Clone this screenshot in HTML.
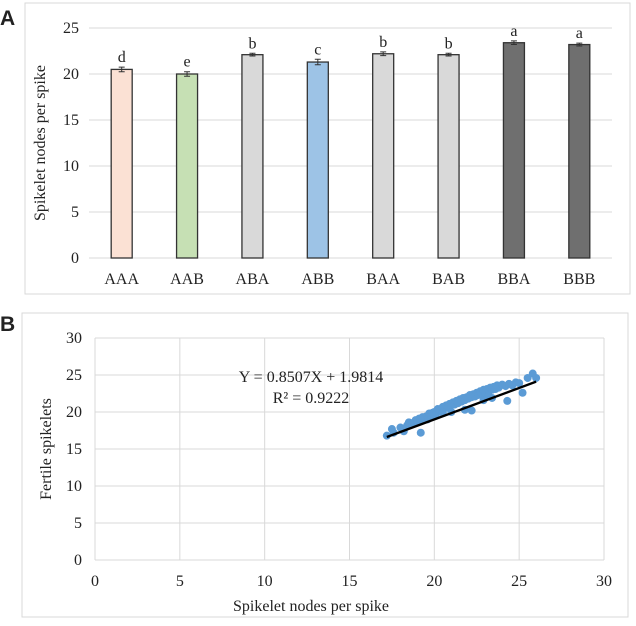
<!DOCTYPE html>
<html><head><meta charset="utf-8">
<style>
body{margin:0;background:#fff;width:636px;height:621px;overflow:hidden;font-family:"Liberation Serif",serif;}
svg text{font-family:"Liberation Serif",serif;fill:#222;}
</style></head>
<body>
<svg id="svg" width="636" height="621" xmlns="http://www.w3.org/2000/svg">
<rect x="25" y="3" width="605" height="291" fill="#fff" stroke="#d9d9d9"/>
<text x="0" y="25" style="font-family:'Liberation Sans',sans-serif;font-weight:bold;font-size:21px" fill="#000">A</text>
<rect x="22" y="313" width="606" height="304" fill="#fff" stroke="#d9d9d9"/>
<text x="0" y="331" style="font-family:'Liberation Sans',sans-serif;font-weight:bold;font-size:21px" fill="#000">B</text>
<g id="ga"></g>
<g id="gb"></g>
</svg>
<script>
const NS="http://www.w3.org/2000/svg";
const categories=["AAA","AAB","ABA","ABB","BAA","BAB","BBA","BBB"];
const barValues=[20.5,20.0,22.1,21.3,22.2,22.1,23.4,23.2];
const barErrors=[0.25,0.25,0.15,0.3,0.2,0.15,0.2,0.15];
const sigLetters=["d","e","b","c","b","b","a","a"];
const barColors=["#fbe1d4","#c6e0b4","#d9d9d9","#9dc3e6","#d9d9d9","#d9d9d9","#6f6f6f","#6f6f6f"];
const yTicksA=[0,5,10,15,20,25];
const scatterX=[17.2,17.5,17.6,18.0,18.2,18.4,18.5,18.7,18.9,19.0,19.1,19.2,19.3,19.5,19.6,19.7,19.8,19.9,20.0,20.1,20.2,20.3,20.4,20.5,20.6,20.7,20.8,20.9,21.0,21.1,21.2,21.3,21.4,21.5,21.6,21.7,21.8,21.9,22.0,22.1,22.2,22.3,22.4,22.5,22.6,22.7,22.8,22.9,23.0,23.1,23.2,23.3,23.4,23.5,23.6,23.7,23.8,24.0,24.2,24.4,24.6,24.8,25.0,25.2,25.5,25.8,26.0,19.2,20.5,21.8,22.9,23.4,22.2,24.3,20.0,21.0];
const scatterY=[16.8,17.7,17.2,17.9,17.4,18.2,18.6,18.5,18.9,18.7,19.1,17.2,19.3,19.4,19.0,19.8,19.5,19.9,20.0,19.7,20.4,20.1,20.3,20.7,20.5,20.9,20.6,21.1,20.9,21.3,21.0,21.5,21.2,21.7,21.4,21.9,21.6,22.0,21.8,22.3,22.0,22.4,22.1,22.6,22.3,22.8,22.5,23.0,22.6,23.1,22.2,23.3,23.0,23.4,23.1,23.6,23.3,23.7,23.5,23.8,23.6,24.0,23.9,22.6,24.6,25.2,24.6,18.9,19.9,20.3,21.6,21.9,20.2,21.5,19.5,20.0];
const xTicksB=[0,5,10,15,20,25,30];
const yTicksB=[0,5,10,15,20,25,30];
const slope=0.8507, intercept=1.9814, fitRange=[17.2,26.0];

function el(tag,attrs,parent){const e=document.createElementNS(NS,tag);for(const k in attrs)e.setAttribute(k,attrs[k]);parent.appendChild(e);return e;}

const FS='16';
// Panel A
const ga=document.getElementById('ga');
const aL=89,aR=612,aT=28,aB=258,aMax=25;
const ya=v=>aB-(v/aMax)*(aB-aT);
const bw=(aR-aL)/categories.length;
const xa=i=>aL+bw*(i+0.5);
yTicksA.forEach(t=>{
 const l=el('line',{x1:aL,x2:aR,y1:ya(t),y2:ya(t),stroke:'#d9d9d9','stroke-width':1},ga);
 
 
 const tx=el('text',{x:aL-10,y:ya(t)+5,'text-anchor':'end','font-size':FS},ga);tx.textContent=t;
 
 
});
categories.forEach((c,i)=>{
 const v=barValues[i],cx=xa(i);
 const r=el('rect',{x:cx-10.5,y:ya(v),width:21,height:aB-ya(v),fill:barColors[i],stroke:'#333','stroke-width':1.3},ga);
 
 
 const e=barErrors[i];
 const eg=el('path',{d:`M${cx},${ya(v+e)}V${ya(v-e)}M${cx-3},${ya(v+e)}H${cx+3}M${cx-3},${ya(v-e)}H${cx+3}`,stroke:'#333','stroke-width':1,fill:'none'},ga);
 
 
 const lt=el('text',{x:cx,y:ya(v+e)-5,'text-anchor':'middle','font-size':FS},ga);lt.textContent=sigLetters[i];
 
 
 const xl=el('text',{x:cx,y:284,'text-anchor':'middle','font-size':FS},ga);xl.textContent=c;
 
 
});
const ta=el('text',{x:0,y:0,'text-anchor':'middle','font-size':FS,transform:`translate(45,${(aT+aB)/2}) rotate(-90)`},ga);
ta.textContent='Spikelet nodes per spike';



// Panel B
const gb=document.getElementById('gb');
const bL=95,bR=604,bT=338,bB=560;
const xb=v=>bL+(v/30)*(bR-bL);
const yb=v=>bB-(v/30)*(bB-bT);
xTicksB.forEach(t=>{
 const l=el('line',{x1:xb(t),x2:xb(t),y1:bT,y2:bB,stroke:'#d9d9d9','stroke-width':1},gb);
 
 
 const tx=el('text',{x:xb(t),y:586,'text-anchor':'middle','font-size':FS},gb);tx.textContent=t;
 
 
});
yTicksB.forEach(t=>{
 const l=el('line',{x1:bL,x2:bR,y1:yb(t),y2:yb(t),stroke:'#d9d9d9','stroke-width':1},gb);
 
 
 const tx=el('text',{x:bL-13,y:yb(t)+5,'text-anchor':'end','font-size':FS},gb);tx.textContent=t;
 
 
});
scatterX.forEach((x,i)=>{
 const c=el('circle',{cx:xb(x),cy:yb(scatterY[i]),r:4,fill:'#5b9bd5'},gb);
 
 
});
const fl=el('line',{x1:xb(fitRange[0]),y1:yb(slope*fitRange[0]+intercept),x2:xb(fitRange[1]),y2:yb(slope*fitRange[1]+intercept),stroke:'#000','stroke-width':2.4},gb);


const eq=el('text',{x:311,y:382,'text-anchor':'middle','font-size':FS},gb);eq.textContent='Y = 0.8507X + 1.9814';


const r2=el('text',{x:311,y:403,'text-anchor':'middle','font-size':FS},gb);r2.textContent='R² = 0.9222';


const xt=el('text',{x:311,y:611,'text-anchor':'middle','font-size':FS},gb);xt.textContent='Spikelet nodes per spike';


const yt=el('text',{x:0,y:0,'text-anchor':'middle','font-size':FS,transform:`translate(51,${(bT+bB)/2}) rotate(-90)`},gb);yt.textContent='Fertile spikelets';


</script>
</body></html>
